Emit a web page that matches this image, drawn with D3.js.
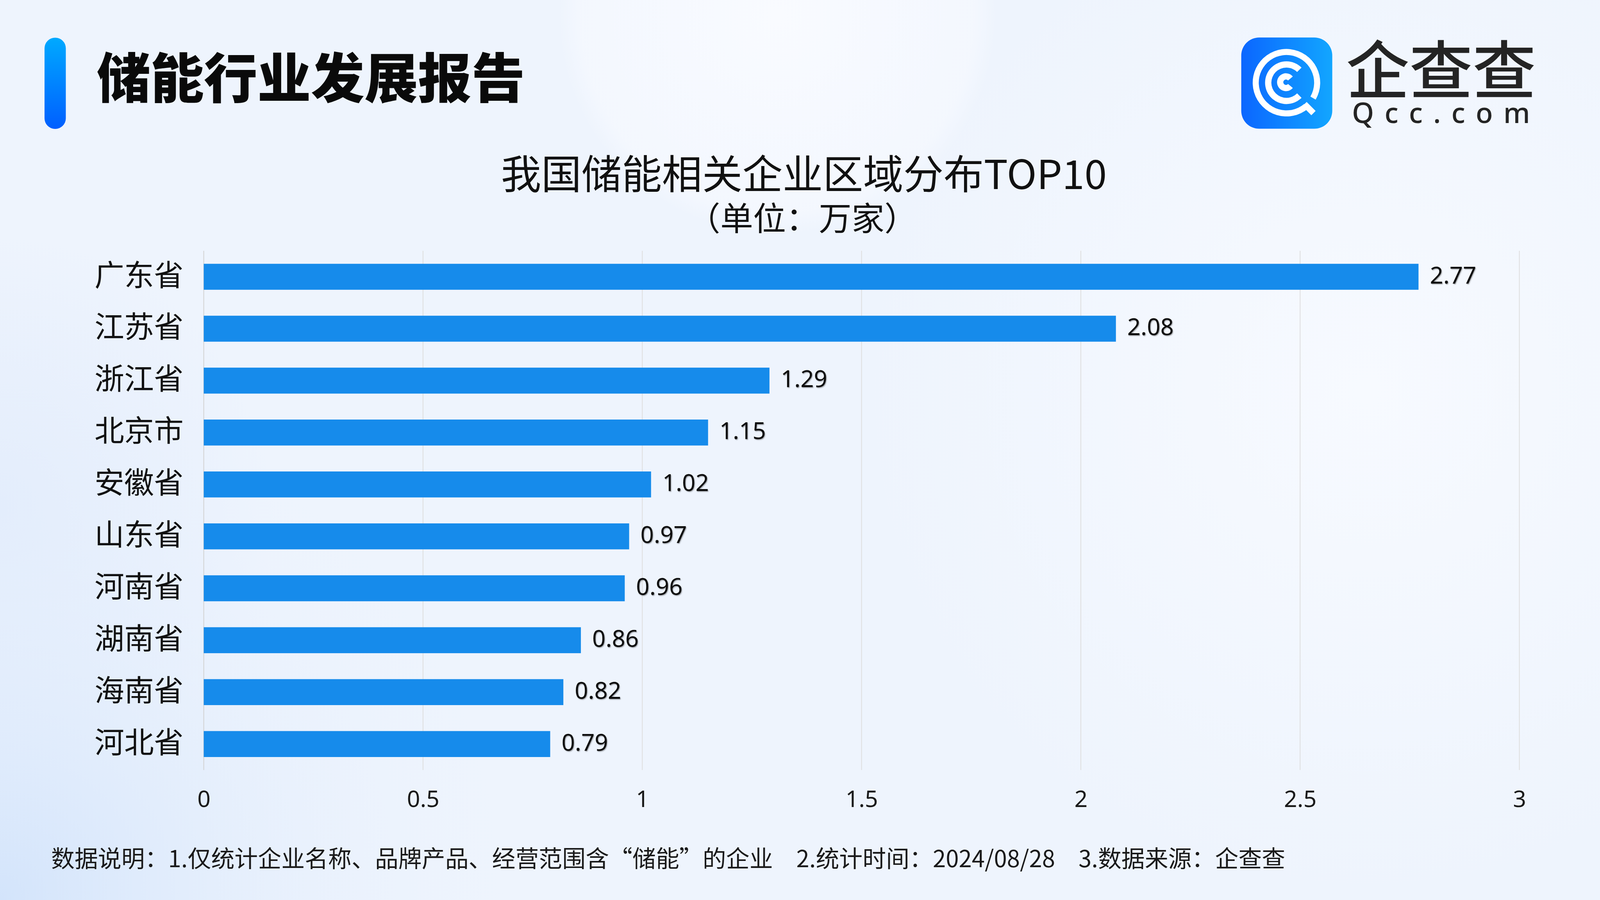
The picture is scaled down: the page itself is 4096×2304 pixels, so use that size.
<!DOCTYPE html>
<html>
<head>
<meta charset="utf-8">
<script src="https://cdn.jsdelivr.net/npm/d3@7"></script>
<style>
  html, body { margin: 0; padding: 0; background: #eef4fd; overflow: hidden; }
  svg { display: block; }
</style>
</head>
<body>
<script>
// ---- data ----
const categories = ["广东省","江苏省","浙江省","北京市","安徽省","山东省","河南省","湖南省","海南省","河北省"];
const values = [2.77, 2.08, 1.29, 1.15, 1.02, 0.97, 0.96, 0.86, 0.82, 0.79];
const xTicks = [0, 0.5, 1, 1.5, 2, 2.5, 3];
const xTickLabels = ["0", "0.5", "1", "1.5", "2", "2.5", "3"];
const headerTitle = "储能行业发展报告";
const chartTitle = "我国储能相关企业区域分布TOP10";
const chartSubtitle = "（单位：万家）";
const footnote = "数据说明：1.仅统计企业名称、品牌产品、经营范围含“储能”的企业\u30002.统计时间：2024/08/28\u30003.数据来源：企查查";
const logoText = "企查查";
const logoSub = "Qcc.com";

const W = 4096, H = 2304;
const CJK = "'Noto Sans CJK SC', 'Noto Sans', sans-serif";
const LAT = "'Noto Sans', 'Open Sans', sans-serif";

const svg = d3.select("body").append("svg").attr("width", W).attr("height", H);
const defs = svg.append("defs");

// background gradients
const bgBL = defs.append("radialGradient").attr("id", "bgBL").attr("gradientUnits", "userSpaceOnUse")
  .attr("cx", 0).attr("cy", H).attr("r", 1400);
bgBL.append("stop").attr("offset", 0).attr("stop-color", "#d3e4fb");
bgBL.append("stop").attr("offset", 1).attr("stop-color", "#eef4fd").attr("stop-opacity", 0);
const bgTop = defs.append("radialGradient").attr("id", "bgTop").attr("gradientUnits", "userSpaceOnUse")
  .attr("cx", 1990).attr("cy", 40).attr("r", 560);
bgTop.append("stop").attr("offset", 0).attr("stop-color", "#f9fbff");
bgTop.append("stop").attr("offset", 0.9).attr("stop-color", "#f6f9ff").attr("stop-opacity", 0.7);
bgTop.append("stop").attr("offset", 1).attr("stop-color", "#f6f9ff").attr("stop-opacity", 0);
const bgR = defs.append("radialGradient").attr("id", "bgR").attr("gradientUnits", "userSpaceOnUse")
  .attr("cx", 3500).attr("cy", 1000).attr("r", 1300);
bgR.append("stop").attr("offset", 0).attr("stop-color", "#f7faff");
bgR.append("stop").attr("offset", 1).attr("stop-color", "#f7faff").attr("stop-opacity", 0);
const bgL = defs.append("radialGradient").attr("id", "bgL").attr("gradientUnits", "userSpaceOnUse")
  .attr("cx", 0).attr("cy", 1300).attr("r", 700);
bgL.append("stop").attr("offset", 0).attr("stop-color", "#e2ecfc");
bgL.append("stop").attr("offset", 1).attr("stop-color", "#e2ecfc").attr("stop-opacity", 0);

svg.append("rect").attr("width", W).attr("height", H).attr("fill", "#eef4fd");
svg.append("rect").attr("width", W).attr("height", H).attr("fill", "url(#bgR)");
svg.append("rect").attr("width", W).attr("height", H).attr("fill", "url(#bgL)");
svg.append("rect").attr("width", W).attr("height", H).attr("fill", "url(#bgBL)");
svg.append("rect").attr("width", W).attr("height", H).attr("fill", "url(#bgTop)");

// header accent bar
const accent = defs.append("linearGradient").attr("id", "accent").attr("x1", 0).attr("y1", 0).attr("x2", 0).attr("y2", 1);
accent.append("stop").attr("offset", 0).attr("stop-color", "#00a9ff");
accent.append("stop").attr("offset", 1).attr("stop-color", "#005fff");
svg.append("rect").attr("x", 114).attr("y", 96.5).attr("width", 54.5).attr("height", 233.5)
  .attr("rx", 27).attr("fill", "url(#accent)");

svg.append("text").attr("x", 248).attr("y", 251)
  .attr("font-family", CJK).attr("font-weight", 900).attr("font-size", 137)
  .attr("fill", "#0a0a0a").text(headerTitle);

// logo
const logoG = defs.append("linearGradient").attr("id", "logoG").attr("x1", 0).attr("y1", 0).attr("x2", 1).attr("y2", 0);
logoG.append("stop").attr("offset", 0).attr("stop-color", "#0b66ff");
logoG.append("stop").attr("offset", 1).attr("stop-color", "#12a6ff");
svg.append("rect").attr("x", 3177.6).attr("y", 96).attr("width", 233).attr("height", 233.6)
  .attr("rx", 46).attr("fill", "url(#logoG)");
const deg = Math.PI / 180;
const icon = svg.append("g").attr("transform", "translate(3293.3,211.7)").attr("fill", "#fff");
icon.append("path").attr("d", d3.arc()({innerRadius: 70.9, outerRadius: 86.4, startAngle: 140 * deg, endAngle: 480 * deg}));
icon.append("path").attr("d", d3.arc()({innerRadius: 38.7, outerRadius: 54.7, startAngle: 135 * deg, endAngle: 405 * deg}));
icon.append("path").attr("d", d3.arc()({innerRadius: 6.9, outerRadius: 22.9, startAngle: 130 * deg, endAngle: 410 * deg})
  ).attr("transform", "translate(-1.2,-1.2)");
svg.append("line").attr("x1", 3339.5).attr("y1", 266.5).attr("x2", 3362.5).attr("y2", 289.5)
  .attr("stroke", "#fff").attr("stroke-width", 15.5);

svg.append("text").attr("x", 3446).attr("y", 240)
  .attr("font-family", CJK).attr("font-weight", 500).attr("font-size", 162)
  .attr("fill", "#242424").text(logoText);
svg.append("text").attr("x", 3461).attr("y", 314.5)
  .attr("font-family", LAT).attr("font-weight", 500).attr("font-size", 72)
  .attr("textLength", 456).attr("lengthAdjust", "spacing")
  .attr("fill", "#242424").text(logoSub);

// chart titles
svg.append("text").attr("x", 2058).attr("y", 484).attr("text-anchor", "middle")
  .attr("font-family", CJK).attr("font-size", 103).attr("fill", "#111").text(chartTitle);
svg.append("text").attr("x", 2054).attr("y", 590).attr("text-anchor", "middle")
  .attr("font-family", CJK).attr("font-size", 84).attr("fill", "#111").text(chartSubtitle);

// scales
const x = d3.scaleLinear().domain([0, 3]).range([521.6, 3889.6]);
const y = d3.scaleBand().domain(categories).range([642.1, 1971.2]).paddingInner(0.5).paddingOuter(0.25);

// gridlines
svg.append("g").selectAll("line").data(xTicks).join("line")
  .attr("x1", d => x(d)).attr("x2", d => x(d))
  .attr("y1", 642.1).attr("y2", 1971.2)
  .attr("stroke", d => d === 0 ? "#d2d2d2" : "#dedede").attr("stroke-width", 2);

// x axis labels
const xAxis = svg.append("g").attr("transform", "translate(0,1971.2)")
  .call(d3.axisBottom(x).tickValues(xTicks).tickFormat((d, i) => xTickLabels[i]).tickSize(0));
xAxis.select(".domain").remove();
xAxis.selectAll("text").attr("dy", null).attr("y", 95)
  .attr("font-family", LAT).attr("font-size", 59).attr("fill", "#1a1a1a");

// y axis labels
const yAxis = svg.append("g").attr("transform", "translate(470,0)")
  .call(d3.axisLeft(y).tickSize(0).tickPadding(0));
yAxis.select(".domain").remove();
yAxis.selectAll("text").attr("dy", null).attr("x", 0).attr("y", 23)
  .attr("font-family", CJK).attr("font-size", 76).attr("fill", "#111");

// bars
svg.append("g").selectAll("rect").data(values).join("rect")
  .attr("x", x(0)).attr("y", (d, i) => y(categories[i]))
  .attr("width", d => x(d) - x(0)).attr("height", y.bandwidth())
  .attr("fill", "#168beb");

// value labels with shadow
const sh = defs.append("filter").attr("id", "sh").attr("x", "-10%").attr("y", "-20%").attr("width", "130%").attr("height", "150%");
sh.append("feDropShadow").attr("dx", 1.5).attr("dy", 2).attr("stdDeviation", 1.2)
  .attr("flood-color", "#000").attr("flood-opacity", 0.35);
svg.append("g").selectAll("text").data(values).join("text")
  .attr("x", d => x(d) + 29).attr("y", (d, i) => y(categories[i]) + y.bandwidth() / 2 + 17)
  .attr("font-family", LAT).attr("font-size", 60).attr("fill", "#111")
  .attr("filter", "url(#sh)")
  .text(d => d3.format(".2f")(d));

// footnote
const fn = svg.append("text").attr("x", 131).attr("y", 2220)
  .attr("font-family", CJK).attr("font-size", 59).attr("fill", "#1a1a1a")
  .style("white-space", "pre").text(footnote);
const len = fn.node().getComputedTextLength();
if (len > 0) {
  const fs = Math.max(54, Math.min(63, 59 * 3160 / len));
  fn.attr("font-size", fs);
}
</script>
</body>
</html>
